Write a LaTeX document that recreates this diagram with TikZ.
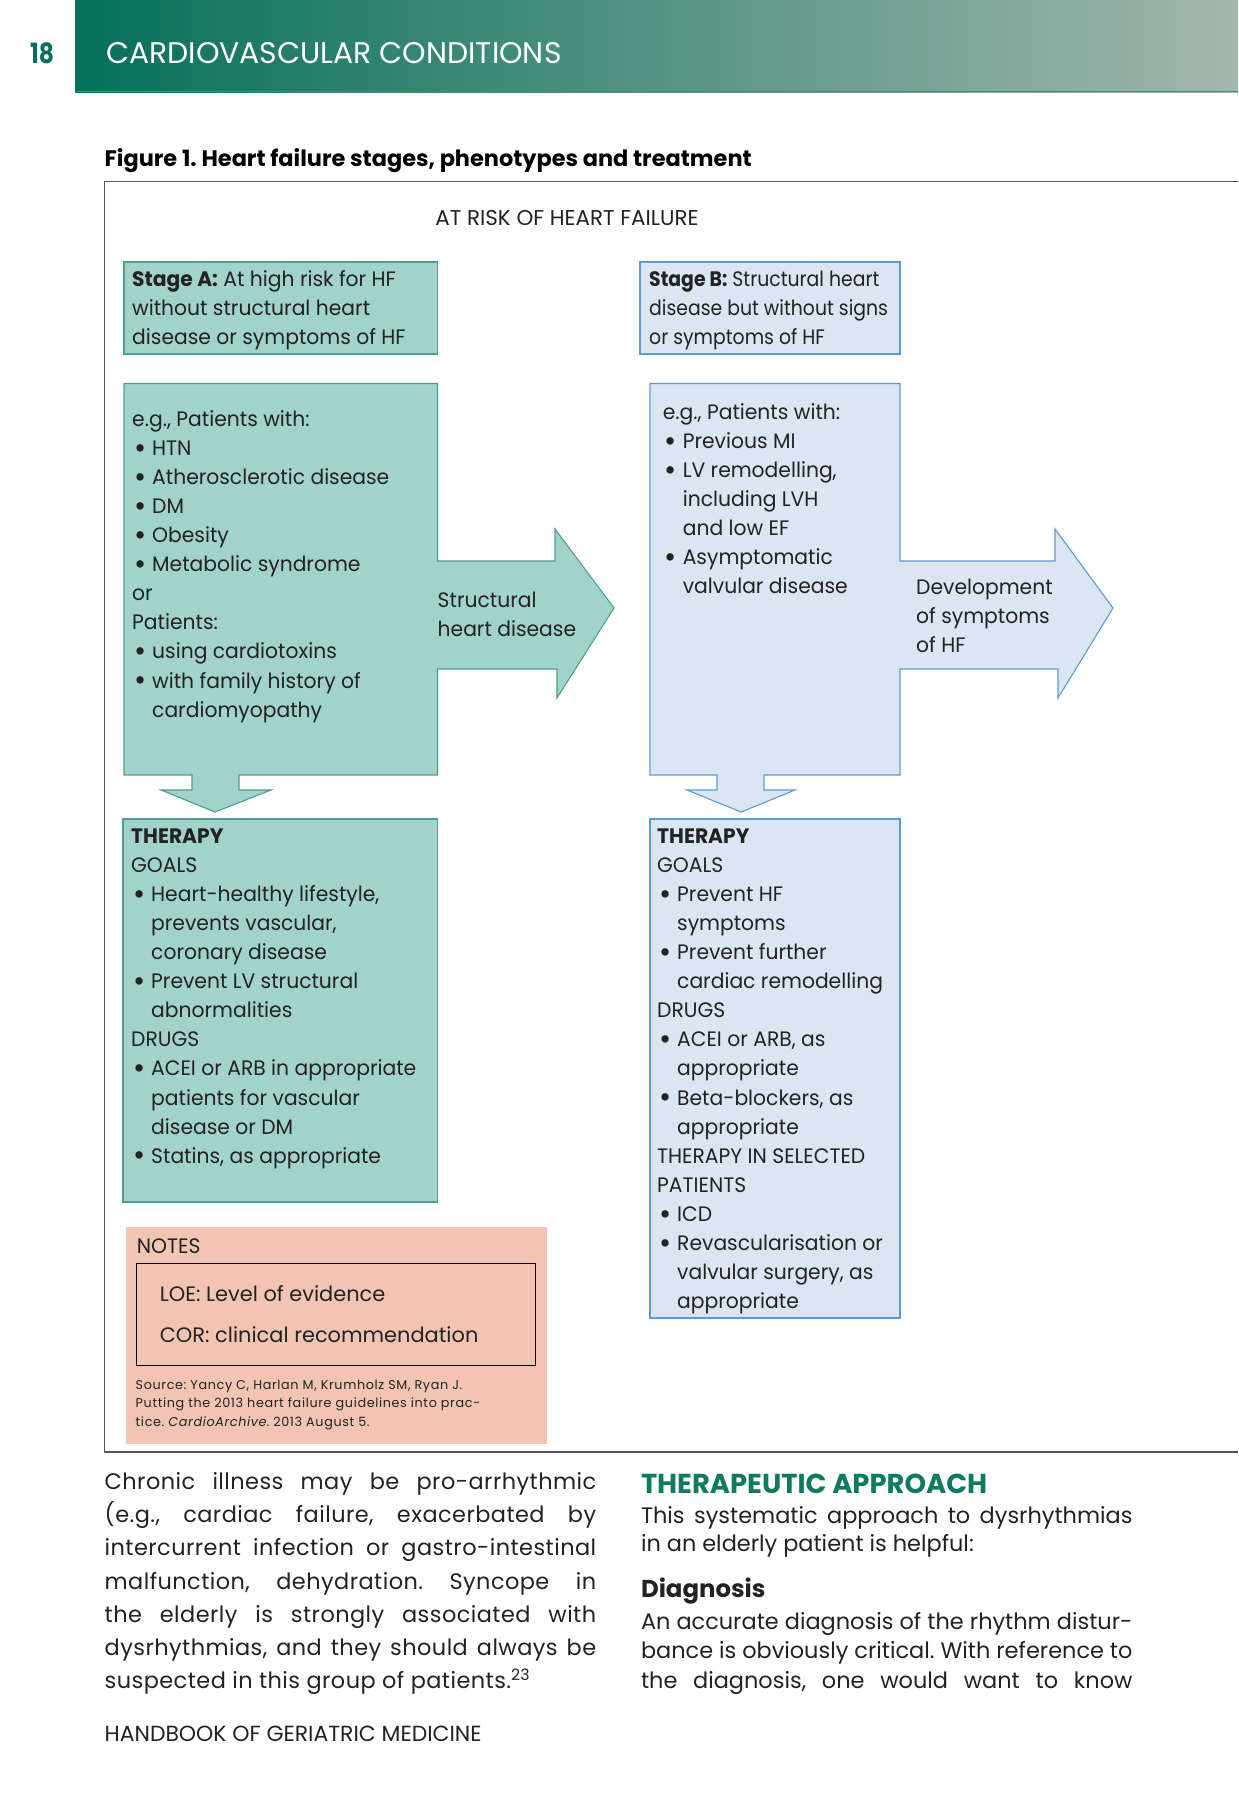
\documentclass[tikz,border=0pt]{standalone}
\usepackage{fontspec}
\setmainfont{Poppins}
\newfontfamily\diagfont{Poppins}[FakeStretch=0.97]
\newfontfamily\stagebfont{Poppins}[FakeStretch=0.9]
\newfontfamily\narrowfont{Poppins}[FakeStretch=0.84]
\newfontfamily\bodyfont{Poppins}[LetterSpace=2]
\newfontfamily\smallfont{Poppins}[LetterSpace=5]
\frenchspacing

\definecolor{tealfill}{HTML}{A2D3CB}
\definecolor{tealline}{HTML}{4E9E8E}
\definecolor{bluefill}{HTML}{DCE6F2}
\definecolor{blueline}{HTML}{5B9BD5}
\definecolor{salmonfill}{HTML}{F1C4B3}
\definecolor{hdrdark}{HTML}{06705A}
\definecolor{hdrlight}{HTML}{A3B7AD}
\definecolor{titlegreen}{HTML}{0E7A60}
\definecolor{framegray}{HTML}{555555}
\definecolor{inkgray}{HTML}{222222}

\newcommand\dtext{\diagfont\fontsize{21}{29.2}\selectfont}
\newcommand\tstrut{\rule{0pt}{20bp}}
\newcommand\bul{\makebox[20bp][l]{\hspace{2bp}\raisebox{-0.13em}{\scalebox{1.45}{\textbullet}}}}
\newcommand\ind{\hspace*{20bp}}

\tikzset{
  boxtext/.style={anchor=north west, inner sep=0pt, align=left, font=\dtext, text=inkgray},
  tealshape/.style={fill=tealfill, draw=tealline, line width=1.1bp, line join=miter},
  blueshape/.style={fill=bluefill, draw=blueline, line width=1.1bp, line join=miter},
  oneline/.style={anchor=base west, inner sep=0pt},
  bodypara/.style={anchor=north west, inner sep=0pt, align=left, text=inkgray},
}

\begin{document}
\begin{tikzpicture}[x=1bp, y=-1bp]
\useasboundingbox (0,0) rectangle (1238,1800);
\fill[white] (0,0) rectangle (1238,1800);

% page header band
\shade[left color=hdrdark, right color=hdrlight] (75,0) rectangle (1238,92);
\draw[hdrdark!60!hdrlight, line width=1bp] (75,91.5) -- (1238,91.5);
\node[anchor=base, inner sep=0pt, text=hdrdark, font=\narrowfont\fontsize{28}{30}\selectfont\bfseries] (pagenum) at (42,63) {18};
\node[oneline, text=white, font=\fontsize{30}{32}\selectfont] (chapter) at (106,63) {CARDIOVASCULAR CONDITIONS};

% figure caption and frame
\node[oneline, text=black, font=\fontsize{22.5}{26}\selectfont\bfseries] (caption) at (104.5,166) {Figure 1. Heart failure stages, phenotypes and treatment};
\draw[framegray, line width=1.3bp] (1238,181.5) -- (104.5,181.5) -- (104.5,1452) -- (1238,1452);

\node[anchor=base, inner sep=0pt, text=inkgray, font=\fontsize{21.5}{24}\selectfont] (atrisk) at (567,225) {AT RISK OF HEART FAILURE};

% Stage A
\draw[tealshape] (124,262) rectangle (437.5,354);
\node[boxtext] (stageA) at (132,266) {\tstrut\textbf{Stage A:} At high risk for HF\\without structural heart\\disease or symptoms of HF};

\draw[tealshape] (124,383.5) -- (437.5,383.5) -- (437.5,561) -- (555,561) -- (555,529)
  -- (614,608) -- (557,698) -- (557,669) -- (437.5,669) -- (437.5,775)
  -- (239,775) -- (239,790) -- (271,790) -- (215,812) -- (161,790) -- (192,790)
  -- (192,775) -- (124,775) -- cycle;
\node[boxtext] (riskA) at (132,406) {\tstrut e.g., Patients with:\\
  \bul HTN\\ \bul Atherosclerotic disease\\ \bul DM\\ \bul Obesity\\
  \bul Metabolic syndrome\\ or\\ Patients:\\ \bul using cardiotoxins\\
  \bul with family history of\\ \ind cardiomyopathy};
\node[boxtext] (arrowA) at (437.5,587.6) {\tstrut Structural\\heart disease};

\draw[tealshape] (123,819) rectangle (437.5,1202);
\node[boxtext] (therapyA) at (131,823) {\tstrut\textbf{THERAPY}\\GOALS\\
  \bul Heart-healthy lifestyle,\\ \ind prevents vascular,\\ \ind coronary disease\\
  \bul Prevent LV structural\\ \ind abnormalities\\ DRUGS\\
  \bul ACEI or ARB in appropriate\\ \ind patients for vascular\\ \ind disease or DM\\
  \bul Statins, as appropriate};

% Stage B
\draw[blueshape] (640,262) rectangle (900,354);
\node[boxtext, font=\stagebfont\fontsize{21}{29.2}\selectfont] (stageB) at (649,266) {\tstrut\textbf{Stage B:} Structural heart\\disease but without signs\\or symptoms of HF};

\draw[blueshape] (650,383.5) -- (900,383.5) -- (900,561) -- (1055,561) -- (1055,529)
  -- (1113,608) -- (1058,698) -- (1058,669) -- (900,669) -- (900,775)
  -- (764,775) -- (764,790) -- (795,790) -- (741,812) -- (687,790) -- (717,790)
  -- (717,775) -- (650,775) -- cycle;
\node[boxtext] (riskB) at (662.6,399) {\tstrut e.g., Patients with:\\
  \bul Previous MI\\ \bul LV remodelling,\\ \ind including LVH\\ \ind and low EF\\
  \bul Asymptomatic\\ \ind valvular disease};
\node[boxtext] (arrowB) at (916,574) {\tstrut Development\\of symptoms\\of HF};

\draw[blueshape] (650,819) rectangle (900,1318);
\node[boxtext] (therapyB) at (657,823) {\tstrut\textbf{THERAPY}\\GOALS\\
  \bul Prevent HF\\ \ind symptoms\\ \bul Prevent further\\ \ind cardiac remodelling\\
  DRUGS\\ \bul ACEI or ARB, as\\ \ind appropriate\\ \bul Beta-blockers, as\\ \ind appropriate\\
  THERAPY IN SELECTED\\ PATIENTS\\ \bul ICD\\ \bul Revascularisation or\\
  \ind valvular surgery, as\\ \ind appropriate};

% notes panel
\fill[salmonfill] (126,1226.5) rectangle (546.6,1443.5);
\draw[black, line width=1bp] (136.7,1263) rectangle (535,1365.5);
\node[boxtext] (notes) at (136.7,1233) {\tstrut NOTES};
\node[boxtext, font=\fontsize{21}{41.6}\selectfont] (abbrev) at (159.6,1281) {\tstrut LOE: Level of evidence\\COR: clinical recommendation};
\node[bodypara, font=\smallfont\fontsize{12.8}{18.3}\selectfont] (source) at (135.5,1377.5)
  {\rule{0pt}{12bp}Source: Yancy C, Harlan M, Krumholz SM, Ryan J.\\Putting the 2013 heart failure guidelines into prac-\\tice. \textit{CardioArchive}. 2013 August 5.};

% running text below the figure
\node[bodypara, font=\bodyfont\fontsize{22.5}{33.25}\selectfont] (bodyleft) at (104.5,1469.5) {\tstrut
  \makebox[491.5bp][s]{Chronic illness may be pro-arrhythmic}\\
  \makebox[491.5bp][s]{(e.g., cardiac failure, exacerbated by}\\
  \makebox[491.5bp][s]{intercurrent infection or gastro-intestinal}\\
  \makebox[491.5bp][s]{malfunction, dehydration. Syncope in}\\
  \makebox[491.5bp][s]{the elderly is strongly associated with}\\
  \makebox[491.5bp][s]{dysrhythmias, and they should always be}\\
  suspected in this group of patients.\textsuperscript{23}};

\node[oneline, text=titlegreen, font=\fontsize{27.5}{30}\selectfont\bfseries] (approach) at (640.8,1493) {THERAPEUTIC APPROACH};
\node[bodypara, font=\fontsize{22.5}{28.6}\selectfont] (approachtext) at (640.8,1503) {\tstrut
  \makebox[491.5bp][s]{This systematic approach to dysrhythmias}\\
  in an elderly patient is helpful:};
\node[oneline, text=inkgray, font=\fontsize{24.5}{28}\selectfont\bfseries] (diagnosis) at (640.8,1597) {Diagnosis};
\node[bodypara, font=\fontsize{22.5}{29.75}\selectfont] (diagtext) at (640.8,1609) {\tstrut
  \makebox[491.5bp][s]{An accurate diagnosis of the rhythm distur-}\\
  \makebox[491.5bp][s]{bance is obviously critical. With reference to}\\
  \makebox[491.5bp][s]{the diagnosis, one would want to know}};

\node[oneline, text=inkgray, font=\fontsize{22}{24}\selectfont] (footer) at (104.5,1741) {HANDBOOK OF GERIATRIC MEDICINE};
\end{tikzpicture}
\end{document}
